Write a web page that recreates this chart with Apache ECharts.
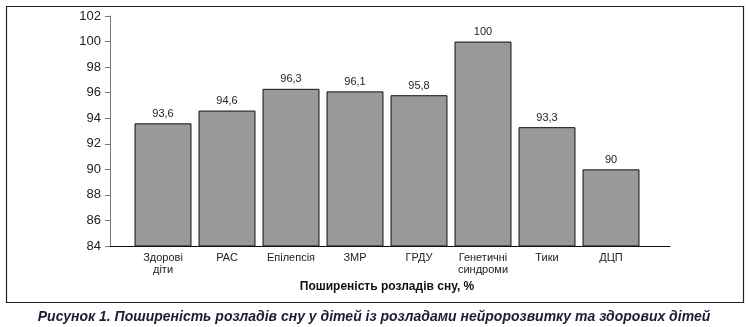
<!DOCTYPE html>
<html><head><meta charset="utf-8">
<script src="https://cdn.jsdelivr.net/npm/echarts@6/dist/echarts.min.js"></script>
<style>html,body{margin:0;padding:0;background:#fff}#c{width:748px;height:327px}</style>
</head><body><div id="c"></div>
<script>
var categories = ['Здорові\nдіти', 'РАС', 'Епілепсія', 'ЗМР', 'ГРДУ', 'Генетичні\nсиндроми', 'Тики', 'ДЦП'];
var values = [93.6, 94.6, 96.3, 96.1, 95.8, 100, 93.3, 90];
var yMin = 84, yMax = 102, yStep = 2;
var axisTitle = 'Поширеність розладів сну, %';
var caption = 'Рисунок 1. Поширеність розладів сну у дітей із розладами нейророзвитку та здорових дітей';

var chart = echarts.init(document.getElementById('c'), null, {renderer: 'canvas'});
chart.setOption({
  animation: false,
  backgroundColor: '#fff',
  textStyle: {fontFamily: 'Liberation Sans, Arial, sans-serif'},
  graphic: [{
    type: 'rect', left: 4, top: 4, shape: {width: 737, height: 296},
    style: {fill: 'none', stroke: '#222', lineWidth: 1.2}, silent: true
  }],
  title: {
    text: caption, left: 'center', top: 305,
    textStyle: {fontSize: 14, fontWeight: 'bold', fontStyle: 'italic', color: '#1c1c38', fontFamily: 'Liberation Sans, Arial, sans-serif'}
  },
  grid: [
    {left: 131, right: 105, top: 16, bottom: 81},
    {left: 110, right: 78, top: 16, bottom: 81}
  ],
  xAxis: [{
    type: 'category', data: categories, gridIndex: 0,
    name: axisTitle, nameLocation: 'middle', nameGap: 33,
    nameTextStyle: {fontSize: 12, fontWeight: 'bold', color: '#111'},
    axisLine: {show: false},
    axisTick: {show: false},
    axisLabel: {fontSize: 11, color: '#222', lineHeight: 12, margin: 6, interval: 0}
  }, {
    type: 'value', gridIndex: 1, min: 0, max: 1,
    axisLine: {show: true, lineStyle: {color: '#111', width: 1}},
    axisTick: {show: false}, axisLabel: {show: false}, splitLine: {show: false}
  }],
  yAxis: [{
    type: 'value', gridIndex: 0, min: yMin, max: yMax, interval: yStep, offset: 21,
    axisLine: {show: true, lineStyle: {color: '#777', width: 1}},
    axisTick: {show: true, length: 5, lineStyle: {color: '#777'}},
    axisLabel: {fontSize: 13, color: '#222', margin: 9},
    splitLine: {show: false}
  }, {
    type: 'value', gridIndex: 1, min: 0, max: 1, show: false
  }],
  series: [{
    type: 'bar', data: values, barCategoryGap: '11%', xAxisIndex: 0, yAxisIndex: 0,
    itemStyle: {color: '#999999', borderColor: '#111', borderWidth: 1},
    label: {show: true, position: 'top', distance: 4, fontSize: 11, color: '#222',
      formatter: function (p) { return String(p.value).replace('.', ','); }}
  }]
});
</script></body></html>
